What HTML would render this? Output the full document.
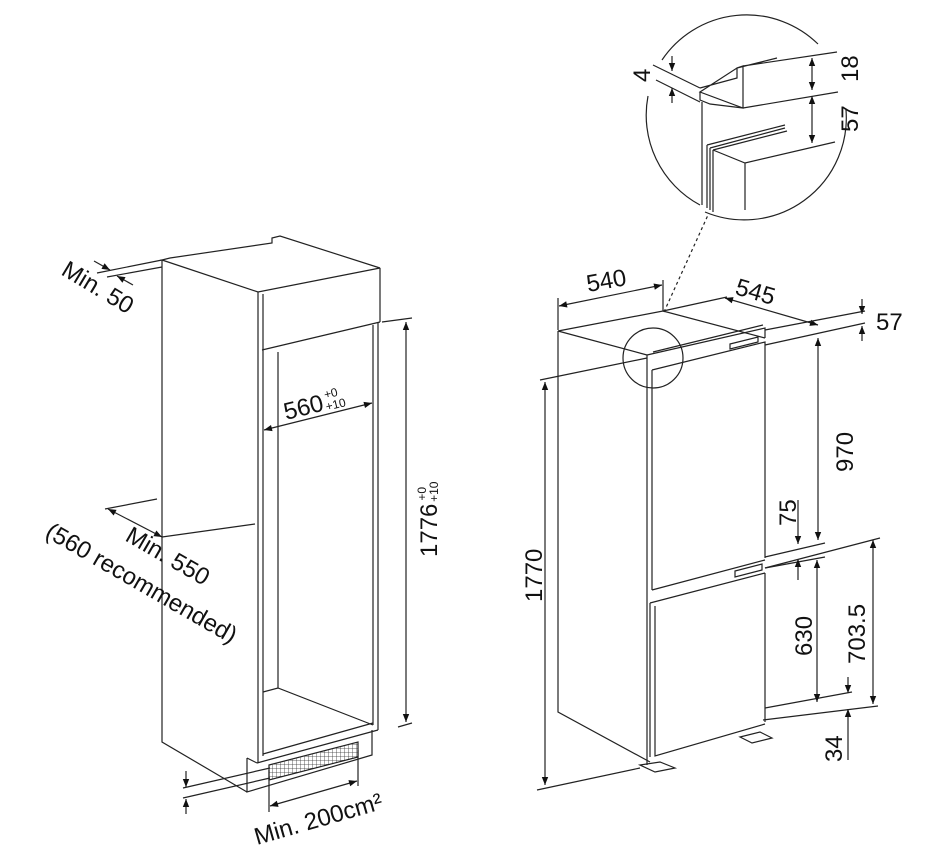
<!DOCTYPE html>
<html><head><meta charset="utf-8"><style>
html,body{margin:0;padding:0;background:#fff}
svg{display:block}
text{font-family:"Liberation Sans",Arial,sans-serif;fill:#111}
</style></head><body>
<svg width="952" height="860" viewBox="0 0 952 860" xmlns="http://www.w3.org/2000/svg">
<defs>
<marker id="a" viewBox="0 0 10 10" refX="10" refY="5" markerWidth="16" markerHeight="8" markerUnits="userSpaceOnUse" orient="auto-start-reverse"><path d="M0,1L10,5L0,9z" fill="#111"/></marker>
<pattern id="g" width="4" height="4" patternUnits="userSpaceOnUse"><path d="M0,0H4M0,0V4" stroke="#333" stroke-width="0.8" fill="none"/></pattern>
</defs>
<g fill="none" stroke="#222" stroke-width="1.2">
<path d="M162,260 L258,292 L380,268 L280,236 L272,238 L272,243 L170,258 Z" fill="#fff"/>
<path d="M258,292 L258,763 M263,294 L263,756 M380,268 L380,322 M262,350 L380,322"/>
<path d="M162,260 L162,742 L247,792"/>
<path d="M278,352 L278,688 M373,325 L373,725 M378,322 L378,730"/>
<path d="M263,692 L278,688 L373,725 M263,754 L373,723 M257,763 L378,730"/>
<path d="M247,758 L247,792 L372,755 L372,730 M247,758 L257,763"/>
<path d="M269,765 L358,742 L358,757 L269,780 Z" fill="url(#g)"/>
<path d="M269,770 L269,812 M358,750 L358,786"/>
<path d="M270,806 L357,781" marker-start="url(#a)" marker-end="url(#a)"/>
<path d="M183,788 L270,768 M183,798 L270,778"/>
<path d="M186,771 L186,787" marker-end="url(#a)"/><path d="M186,814 L186,799" marker-end="url(#a)"/>
<path d="M97,273 L162,260 M107,277 L162,267"/>
<path d="M94,261 L110,270" marker-end="url(#a)"/><path d="M133,285 L117,276" marker-end="url(#a)"/>
<path d="M105,509 L157,499 M162,537 L255,524"/>
<path d="M108,509 L162,537" marker-start="url(#a)" marker-end="url(#a)"/>
<path d="M264,430 L372,403" marker-start="url(#a)" marker-end="url(#a)"/>
<path d="M382,322 L412,318 M398,727 L412,723"/>
<path d="M406,322 L406,722" marker-start="url(#a)" marker-end="url(#a)"/>

<path d="M558,331 L663,311 L765,338 M558,331 L647,355"/>
<path d="M558,331 L558,712 L650,762"/>
<path d="M647,355 L647,765 M652,370 L652,590 M652,370 L765,342 L765,558 M652,590 L765,560"/>
<path d="M647,355 L765,328 L765,338 M653,352 L763,325"/>
<path d="M730,344 L758,337 L758,342 L730,349 Z"/>
<path d="M735,571 L762,564 L762,570 L735,577 Z"/>
<path d="M650,603 L765,573 M650,603 L650,757 M655,606 L655,756 L765,724 M765,573 L765,722"/>
<path d="M640,765 L660,762 L675,768 L655,772 Z M740,737 L760,732 L772,738 L752,743 Z"/>
<path d="M558,298 L558,330 M663,280 L663,311"/>
<path d="M559,306 L662,285" marker-start="url(#a)" marker-end="url(#a)"/>
<path d="M727,297 L663,311"/>
<path d="M725,298 L818,325" marker-start="url(#a)" marker-end="url(#a)"/>
<path d="M765,330 L865,311 M765,345 L865,323"/>
<path d="M862,299 L862,314" marker-end="url(#a)"/><path d="M862,341 L862,326" marker-end="url(#a)"/>
<path d="M540,380 L647,358 M537,790 L640,768"/>
<path d="M545,382 L545,785" marker-start="url(#a)" marker-end="url(#a)"/>
<path d="M818,338 L818,540" marker-start="url(#a)" marker-end="url(#a)"/>
<path d="M765,557 L825,543 M765,568 L825,557"/>
<path d="M798,500 L798,544" marker-end="url(#a)"/><path d="M798,580 L798,559" marker-end="url(#a)"/>
<path d="M765,568 L880,538 M763,720 L878,706"/>
<path d="M873,540 L873,704" marker-start="url(#a)" marker-end="url(#a)"/>
<path d="M765,708 L852,692"/>
<path d="M817,560 L817,702" marker-start="url(#a)" marker-end="url(#a)"/>
<path d="M848,677 L848,693" marker-end="url(#a)"/><path d="M848,760 L848,709" marker-end="url(#a)"/>

<circle cx="653" cy="358" r="30"/>
<path d="M664,312 L708,215" stroke-dasharray="3,3"/>
<path d="M662,60 A102,102 0 0 1 818,44"/>
<path d="M846,110 A102,102 0 0 1 705,212"/>
<path d="M648,96 A102,102 0 0 0 700,205"/>
<path d="M653,65 L700,88 M656,80 L700,102"/>
<path d="M672,56 L672,71" marker-end="url(#a)"/><path d="M672,103 L672,88" marker-end="url(#a)"/>
<path d="M700,88 L737,78 L737,68 L777,58 M737,68 L743,66 L743,108 L700,92 Z M743,66 L837,52 M743,108 L838,92"/>
<path d="M700,92 L700,100 L710,104 L743,108"/>
<path d="M702,102 L702,205 M707,145 L707,208 M710,148 L710,210 M713,150 L713,212 M707,145 L785,125 M710,148 L785,128 M713,150 L787,131"/>
<path d="M713,150 L745,163 L835,142 M745,163 L745,210"/>
<path d="M812,58 L812,90" marker-start="url(#a)" marker-end="url(#a)"/>
<path d="M812,96 L812,143" marker-start="url(#a)" marker-end="url(#a)"/>
</g>

<g font-size="24">
<text transform="translate(60,274) rotate(31)">Min. 50</text>
<text transform="translate(124,540) rotate(30)">Min. 550</text>
<text transform="translate(44,536) rotate(30)">(560 recommended)</text>
<text transform="translate(286,420) rotate(-14)">560<tspan font-size="12" dx="3" dy="-11">+0</tspan><tspan font-size="12" dx="-15" dy="12">+10</tspan></text>
<text transform="translate(437,557) rotate(-90)">1776<tspan font-size="12" dx="3" dy="-11">+0</tspan><tspan font-size="12" dx="-15" dy="12">+10</tspan></text>
<text transform="translate(257,845) rotate(-16)">Min. 200cm²</text>
<text transform="translate(588,292) rotate(-10)">540</text>
<text transform="translate(734,294) rotate(16)">545</text>
<text x="876" y="330">57</text>
<text transform="translate(542,602) rotate(-90)">1770</text>
<text transform="translate(853,472) rotate(-90)">970</text>
<text transform="translate(796,526) rotate(-90)">75</text>
<text transform="translate(812,656) rotate(-90)">630</text>
<text transform="translate(865,664) rotate(-90)">703.5</text>
<text transform="translate(842,762) rotate(-90)">34</text>
<text transform="translate(650,82) rotate(-90)">4</text>
<text transform="translate(858,82) rotate(-90)">18</text>
<text transform="translate(858,132) rotate(-90)">57</text>
</g>
</svg>
</body></html>
